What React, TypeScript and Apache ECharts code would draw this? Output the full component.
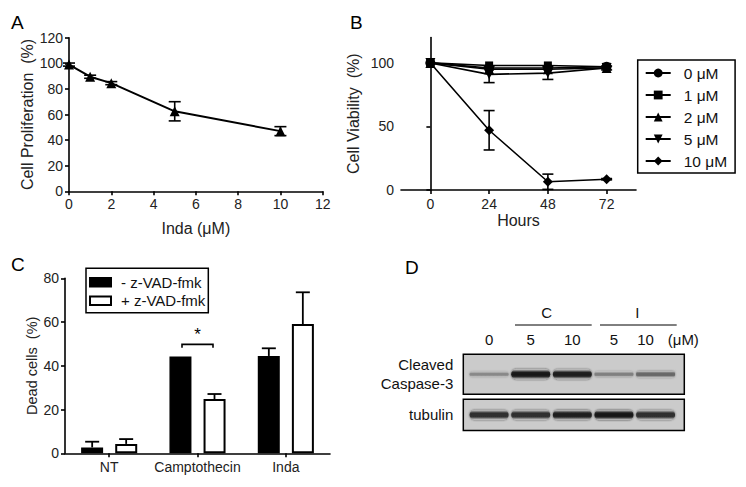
import React, { useEffect, useRef } from 'react';
import * as echarts from 'echarts';

const FONT = '"Liberation Sans", Arial, Helvetica, sans-serif';

// ---- Panel A: proliferation vs Inda dose
const indaDoses = [0, 1, 2, 5, 10];
const proliferation = [99, 89.5, 84.5, 62.5, 47];
const proliferationErr = [1.2, 1.2, 1.2, 7.5, 3.5];

// ---- Panel B: viability over time
const hours = [0, 24, 48, 72];
const hourTicks = [0, 24, 48, 72];
const viabilityTicks = [0, 50, 100];
const doseNames = ['0 μM', '1 μM', '2 μM', '5 μM', '10 μM'];
const viability0 = [100, 96, 96, 97];
const viability1 = [100, 98, 98, 97];
const viability2 = [100, 95, 95, 96];
const viability5 = [100, 91, 92, 96];
const viability10 = [100, 47, 6.5, 8.5];
const viabilityErr5 = [0, 6.5, 5, 1.5];
const viabilityErr10 = [0, 15.5, 6, 0.5];

// ---- Panel C: dead cells
const treatments = ['NT', 'Camptothecin', 'Inda'];
const zvadNames = ['- z-VAD-fmk', '+ z-VAD-fmk'];
const deadMinus = [2.7, 44.2, 44.5];
const deadMinusErr = [2.6, 0, 3.5];
const deadPlus = [4.3, 24.8, 59.1];
const deadPlusErr = [2.2, 2.3, 14.5];
const significancePair = [1, 49.8]; // Camptothecin, bracket level

// ---- Panel D: western blot
const laneLabels = ['0', '5', '10', '5', '10'];
const lanes = [0, 1, 2, 3, 4];
const caspaseIntensity = [0.3, 1, 0.95, 0.35, 0.5];
const tubulinIntensity = [0.85, 0.85, 0.95, 1, 0.85];

const BLOT_BG = '#cbcbcb';
const tickFont = { fontFamily: FONT, fontSize: 14, color: '#222' };
const nameFont = { fontFamily: FONT, fontSize: 16, color: '#222' };
const axisLine = { show: true, lineStyle: { color: '#000', width: 1.6 } };
const axisTick = { show: true, length: 4, inside: false, lineStyle: { color: '#000', width: 1.6 } };

const errRender = (cap: number) => (_p: any, api: any) => {
  const x = api.value(0);
  const y = api.value(1);
  const e = api.value(2);
  if (!e) return { type: 'group', children: [] };
  const hi = api.coord([x, y + e]);
  const lo = api.coord([x, Math.max(0, y - e)]);
  const st = { stroke: '#000', lineWidth: 1.6 };
  return {
    type: 'group',
    children: [
      { type: 'line', shape: { x1: hi[0], y1: hi[1], x2: lo[0], y2: lo[1] }, style: st },
      { type: 'line', shape: { x1: hi[0] - cap, y1: hi[1], x2: hi[0] + cap, y2: hi[1] }, style: st },
      { type: 'line', shape: { x1: lo[0] - cap, y1: lo[1], x2: lo[0] + cap, y2: lo[1] }, style: st },
    ],
  };
};

const barErrRender = (_p: any, api: any) => {
  const i = api.value(0);
  const v = api.value(1);
  const e = api.value(2);
  const side = api.value(3);
  if (!e) return { type: 'group', children: [] };
  const base = api.coord([i, v]);
  const top = api.coord([i, v + e]);
  const x = base[0] + (side ? 17 : -17);
  const st = { stroke: '#000', lineWidth: 1.8 };
  return {
    type: 'group',
    children: [
      { type: 'line', shape: { x1: x, y1: base[1], x2: x, y2: top[1] }, style: st },
      { type: 'line', shape: { x1: x - 7, y1: top[1], x2: x + 7, y2: top[1] }, style: st },
    ],
  };
};

const bracketRender = (_p: any, api: any) => {
  const p = api.coord([api.value(0), api.value(1)]);
  const half = 15.5;
  return {
    type: 'group',
    children: [
      {
        type: 'polyline',
        shape: { points: [[p[0] - half, p[1] + 3.5], [p[0] - half, p[1]], [p[0] + half, p[1]], [p[0] + half, p[1] + 3.5]] },
        style: { stroke: '#000', lineWidth: 1.6, fill: 'none' },
      },
      {
        type: 'text',
        style: { text: '*', x: p[0], y: p[1] - 1, align: 'center', verticalAlign: 'bottom', fontSize: 17, fontFamily: FONT, fill: '#000' },
      },
    ],
  };
};

const bandRender = (thick: number, base: number) => (_p: any, api: any) => {
  const lane = api.value(0);
  const inten = api.value(2);
  const c = api.coord([lane, 0]);
  const h = base + thick * inten;
  const g = Math.round(185 - 165 * inten);
  const col = `rgb(${g},${g},${g})`;
  const mid = `rgba(${g},${g},${g},0.85)`;
  const fill = new echarts.graphic.LinearGradient(0, 0, 0, 1, [
    { offset: 0, color: BLOT_BG },
    { offset: 0.3, color: mid },
    { offset: 0.5, color: col },
    { offset: 0.7, color: mid },
    { offset: 1, color: BLOT_BG },
  ]);
  return {
    type: 'rect',
    shape: { x: c[0] - 19.5, y: c[1] - h / 2, width: 39, height: h, r: h / 2 },
    style: { fill, shadowBlur: 2, shadowColor: mid },
  };
};

function buildOption(): any {
  const viab = [viability0, viability1, viability2, viability5, viability10];
  const symbols = ['circle', 'rect', 'triangle', 'triangle', 'diamond'];
  const rotations = [0, 0, 0, 180, 0];
  const bSeries = viab.map((vals, k) => ({
    type: 'line',
    name: doseNames[k],
    xAxisIndex: 1,
    yAxisIndex: 1,
    data: hours.map((h, i) => [h, vals[i]]),
    symbol: symbols[k],
    symbolRotate: rotations[k],
    symbolSize: k === 1 ? 8 : 10,
    lineStyle: { color: '#000', width: 1.6 },
    itemStyle: { color: '#000' },
    z: 3,
  }));

  return {
    animation: false,
    backgroundColor: '#fff',
    textStyle: { fontFamily: FONT },
    grid: [
      { left: 69, top: 37.7, width: 253.7, height: 153.6, outerBoundsMode: 'none' },
      { left: 401, top: 37.5, width: 235, height: 152.5, outerBoundsMode: 'none' },
      { left: 65, top: 278.3, width: 265, height: 175, outerBoundsMode: 'none' },
      { left: 463.3, top: 354.3, width: 221, height: 40, outerBoundsMode: 'none', show: true, backgroundColor: BLOT_BG, borderColor: '#000', borderWidth: 1.5 },
      { left: 463.3, top: 399.3, width: 221, height: 31.2, outerBoundsMode: 'none', show: true, backgroundColor: BLOT_BG, borderColor: '#000', borderWidth: 1.5 },
    ],
    xAxis: [
      {
        gridIndex: 0, type: 'value', min: 0, max: 12, interval: 2,
        name: 'Inda (μM)', nameLocation: 'middle', nameGap: 29, nameTextStyle: nameFont, nameMoveOverlap: false,
        axisLine, axisTick, axisLabel: { ...tickFont, margin: 6 }, splitLine: { show: false },
      },
      {
        gridIndex: 1, type: 'value', min: -12, max: 84,
        name: 'Hours', nameLocation: 'middle', nameGap: 22, nameTextStyle: nameFont, nameMoveOverlap: false,
        axisLine, axisTick: { ...axisTick, customValues: hourTicks },
        axisLabel: { ...tickFont, margin: 7, customValues: hourTicks }, splitLine: { show: false },
      },
      {
        gridIndex: 2, type: 'category', data: treatments,
        axisLine, axisTick: { ...axisTick, alignWithLabel: true, interval: 0 },
        axisLabel: { ...tickFont, margin: 7, interval: 0, hideOverlap: false }, splitLine: { show: false },
      },
      {
        gridIndex: 3, type: 'value', min: -0.62, max: 4.69, position: 'top',
        axisLine: { show: false }, axisTick: { show: false }, splitLine: { show: false },
        axisLabel: {
          customValues: lanes, margin: 7, fontFamily: FONT, fontSize: 15, color: '#111',
          formatter: (v: number) => {
            const i = Math.round(v);
            return i === 4 ? `{s|${laneLabels[i]}}` : laneLabels[i];
          },
          rich: { s: { fontFamily: FONT, fontSize: 15, color: '#111', padding: [0, 20, 0, 0] } },
        },
      },
      {
        gridIndex: 4, type: 'value', min: -0.62, max: 4.69,
        axisLine: { show: false }, axisTick: { show: false }, axisLabel: { show: false }, splitLine: { show: false },
      },
    ],
    yAxis: [
      {
        gridIndex: 0, type: 'value', min: 0, max: 120, interval: 20,
        name: 'Cell Proliferation  (%)', nameLocation: 'middle', nameGap: 34, nameTextStyle: nameFont, nameMoveOverlap: false,
        axisLine, axisTick, axisLabel: { ...tickFont, margin: 6 }, splitLine: { show: false },
      },
      {
        gridIndex: 1, type: 'value', min: 0, max: 120,
        name: 'Cell Viability  (%)', nameLocation: 'middle', nameGap: 40, nameTextStyle: nameFont, nameMoveOverlap: false,
        axisLine, axisTick: { ...axisTick, customValues: viabilityTicks },
        axisLabel: { ...tickFont, margin: 7, customValues: viabilityTicks }, splitLine: { show: false },
      },
      {
        gridIndex: 2, type: 'value', min: 0, max: 80, interval: 20,
        name: 'Dead cells  (%)', nameLocation: 'middle', nameGap: 26, nameTextStyle: { ...nameFont, fontSize: 14.5 }, nameMoveOverlap: false,
        axisLine, axisTick, axisLabel: { ...tickFont, margin: 6 }, splitLine: { show: false },
      },
      {
        gridIndex: 3, type: 'category', data: ['Cleaved\nCaspase-3'],
        axisLine: { show: false }, axisTick: { show: false }, splitLine: { show: false },
        axisLabel: { fontFamily: FONT, fontSize: 15, lineHeight: 19, color: '#111', margin: 10 },
      },
      {
        gridIndex: 4, type: 'category', data: ['tubulin'],
        axisLine: { show: false }, axisTick: { show: false }, splitLine: { show: false },
        axisLabel: { fontFamily: FONT, fontSize: 15, color: '#111', margin: 10 },
      },
    ],
    legend: [
      {
        data: doseNames, orient: 'vertical', left: 637.7, top: 60, selectedMode: false,
        itemWidth: 25, itemHeight: 11, itemGap: 6, padding: [5, 8, 4, 7],
        borderColor: '#000', borderWidth: 1.5,
        textStyle: { fontFamily: FONT, fontSize: 15.5, lineHeight: 16, color: '#111', padding: [0, 0, 0, 8] },
      },
      {
        data: zvadNames, orient: 'vertical', left: 86, top: 268.3, selectedMode: false, icon: 'rect',
        itemWidth: 21, itemHeight: 8.5, itemGap: 2.5, padding: [6, 3, 4, 3],
        borderColor: '#000', borderWidth: 1.5,
        textStyle: { fontFamily: FONT, fontSize: 15, lineHeight: 16, color: '#111', padding: [0, 0, 0, 5] },
      },
    ],
    graphic: [
      { type: 'text', left: 11, top: 13, style: { text: 'A', fontFamily: FONT, fontSize: 19, fill: '#000' } },
      { type: 'text', left: 350, top: 13, style: { text: 'B', fontFamily: FONT, fontSize: 19, fill: '#000' } },
      { type: 'text', left: 11, top: 255, style: { text: 'C', fontFamily: FONT, fontSize: 19, fill: '#000' } },
      { type: 'text', left: 405, top: 258, style: { text: 'D', fontFamily: FONT, fontSize: 19, fill: '#000' } },
      { type: 'text', x: 546.7, y: 312.7, style: { text: 'C', align: 'center', verticalAlign: 'middle', fontFamily: FONT, fontSize: 15, fill: '#111' } },
      { type: 'text', x: 637.3, y: 312.7, style: { text: 'I', align: 'center', verticalAlign: 'middle', fontFamily: FONT, fontSize: 15, fill: '#111' } },
      { type: 'line', shape: { x1: 515, y1: 325, x2: 591.7, y2: 325 }, style: { stroke: '#000', lineWidth: 1 } },
      { type: 'line', shape: { x1: 600, y1: 325, x2: 676.7, y2: 325 }, style: { stroke: '#000', lineWidth: 1 } },
      { type: 'text', x: 683.3, y: 339.3, style: { text: '(μM)', align: 'center', verticalAlign: 'middle', fontFamily: FONT, fontSize: 15, fill: '#111' } },
    ],
    series: [
      {
        type: 'line', name: 'Proliferation', xAxisIndex: 0, yAxisIndex: 0,
        data: indaDoses.map((d, i) => [d, proliferation[i]]),
        symbol: 'triangle', symbolSize: 10,
        lineStyle: { color: '#000', width: 2 }, itemStyle: { color: '#000' }, z: 3,
      },
      {
        type: 'custom', name: 'A err', xAxisIndex: 0, yAxisIndex: 0, encode: { x: 0, y: 1 },
        data: indaDoses.map((d, i) => [d, proliferation[i], proliferationErr[i]]),
        renderItem: errRender(6), z: 4,
      },
      ...bSeries,
      {
        type: 'custom', name: 'B err5', xAxisIndex: 1, yAxisIndex: 1, encode: { x: 0, y: 1 },
        data: hours.map((h, i) => [h, viability5[i], viabilityErr5[i]]),
        renderItem: errRender(5.5), z: 4,
      },
      {
        type: 'custom', name: 'B err10', xAxisIndex: 1, yAxisIndex: 1, encode: { x: 0, y: 1 },
        data: hours.map((h, i) => [h, viability10[i], viabilityErr10[i]]),
        renderItem: errRender(5.5), z: 4,
      },
      {
        type: 'bar', name: zvadNames[0], xAxisIndex: 2, yAxisIndex: 2, data: deadMinus,
        barWidth: 22, barGap: '55%', itemStyle: { color: '#000', borderColor: '#000', borderWidth: 1.5 },
      },
      {
        type: 'bar', name: zvadNames[1], xAxisIndex: 2, yAxisIndex: 2, data: deadPlus,
        barWidth: 22, barGap: '55%', itemStyle: { color: '#fff', borderColor: '#000', borderWidth: 2 },
      },
      {
        type: 'custom', name: 'C err', xAxisIndex: 2, yAxisIndex: 2, encode: { x: 0, y: 1 },
        data: [
          ...treatments.map((_, i) => [i, deadMinus[i], deadMinusErr[i], 0]),
          ...treatments.map((_, i) => [i, deadPlus[i], deadPlusErr[i], 1]),
        ],
        renderItem: barErrRender, z: 4,
      },
      {
        type: 'custom', name: 'C sig', xAxisIndex: 2, yAxisIndex: 2, encode: { x: 0, y: 1 },
        data: [significancePair], renderItem: bracketRender, z: 4,
      },
      {
        type: 'custom', name: 'Caspase', xAxisIndex: 3, yAxisIndex: 3, encode: { x: 0, y: 1 },
        data: lanes.map((l, i) => [l, 0, caspaseIntensity[i]]),
        renderItem: bandRender(7, 3), z: 3,
      },
      {
        type: 'custom', name: 'Tubulin', xAxisIndex: 4, yAxisIndex: 4, encode: { x: 0, y: 1 },
        data: lanes.map((l, i) => [l, 0, tubulinIntensity[i]]),
        renderItem: bandRender(3, 7), z: 3,
      },
    ],
  };
}

export default function App() {
  const ref = useRef<HTMLDivElement>(null);
  useEffect(() => {
    if (!ref.current) return;
    const chart = echarts.init(ref.current, undefined, { renderer: 'svg' });
    chart.setOption(buildOption());
    return () => chart.dispose();
  }, []);
  return (
    <div
      ref={ref}
      style={{ position: 'fixed', left: 0, top: 0, width: 746, height: 487, background: '#fff' }}
    />
  );
}
